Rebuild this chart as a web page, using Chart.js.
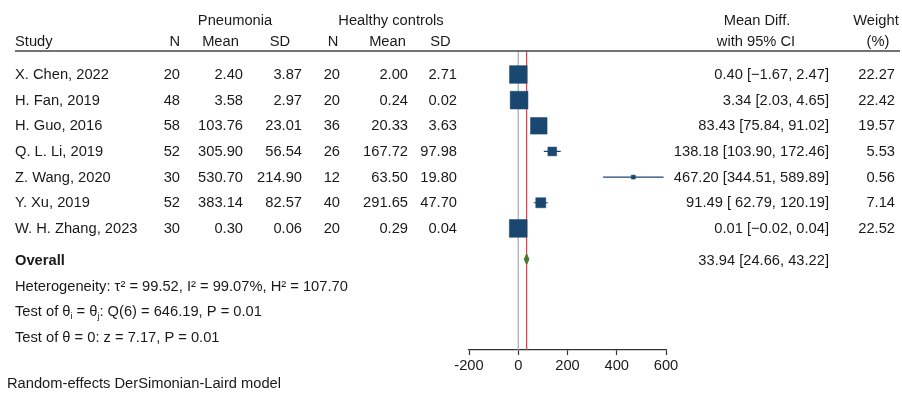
<!DOCTYPE html>
<html><head><meta charset="utf-8">
<script src="https://cdn.jsdelivr.net/npm/chart.js@4/dist/chart.umd.min.js"></script>
<style>html,body{margin:0;padding:0;background:#fff;}#wrap{width:902px;height:403px;position:relative;}</style>
</head><body><div id="wrap"><canvas id="c" width="902" height="403"></canvas></div>
<script>
const studies = ["X. Chen, 2022","H. Fan, 2019","H. Guo, 2016","Q. L. Li, 2019","Z. Wang, 2020","Y. Xu, 2019","W. H. Zhang, 2023"];
const pnN = [20,48,58,52,30,52,30];
const pnMean = [2.40,3.58,103.76,305.90,530.70,383.14,0.30];
const pnSD = [3.87,2.97,23.01,56.54,214.90,82.57,0.06];
const hcN = [20,20,36,26,12,40,20];
const hcMean = [2.00,0.24,20.33,167.72,63.50,291.65,0.29];
const hcSD = [2.71,0.02,3.63,97.98,19.80,47.70,0.04];
const meanDiff = [0.40,3.34,83.43,138.18,467.20,91.49,0.01];
const ciLow = [-1.67,2.03,75.84,103.90,344.51,62.79,-0.02];
const ciHigh = [2.47,4.65,91.02,172.46,589.89,120.19,0.04];
const weights = [22.27,22.42,19.57,5.53,0.56,7.14,22.52];
const overallEst = [33.94,24.66,43.22];
const hetStats = [99.52,99.07,107.70];
const qTest = [6,646.19,0.01];
const zTest = [7.17,0.01];
const xTicks = [-200,0,200,400,600];

const FONT = '"Liberation Sans", Arial, Helvetica, sans-serif';
const FS = 14.7;
const NAVY = '#1a476f';
const GREEN = '#4f7a2c';
const Y_MIN = -0.916, Y_MAX = 10.741, OVERALL_ROW = 7.2;

const ciData = [];
meanDiff.forEach((m,i)=>{ ciData.push({x:ciLow[i],y:i},{x:ciHigh[i],y:i},{x:ciHigh[i],y:null}); });
const sqData = meanDiff.map((m,i)=>({x:m,y:i}));
const sqRadius = weights.map(w=>Math.max(4, 3.75*Math.sqrt(w))/Math.SQRT2);
const dh = 0.21;
const diamond = [
  {x:overallEst[1],y:OVERALL_ROW},{x:overallEst[0],y:OVERALL_ROW-dh},
  {x:overallEst[2],y:OVERALL_ROW},{x:overallEst[0],y:OVERALL_ROW+dh},
  {x:overallEst[1],y:OVERALL_ROW}
];

function f2(v){ return v.toFixed(2).replace('-','\u2212'); }
function fmtCI(md,lo,hi){
  let a=f2(lo), b=f2(hi);
  if (lo>=0 && a.length<b.length) a=a.padStart(b.length,' ');
  return f2(md)+' ['+a+', '+b+']';
}

const textPlugin = {
  id:'forestText',
  afterDraw(chart){
    const ctx = chart.ctx, ys = chart.scales.y;
    ctx.save();
    ctx.fillStyle = '#1a1a1a';
    ctx.textBaseline = 'middle';
    const font = (s,b)=> (b?'bold ':'')+s+'px '+FONT;
    const txt = (t,x,y,al)=>{ ctx.textAlign = al||'left'; ctx.fillText(t,x,y); };
    ctx.font = font(FS);
    // headers
    txt('Pneumonia',235,21,'center');
    txt('Healthy controls',391,21,'center');
    txt('Mean Diff.',757,21,'center');
    txt('Weight',876,21,'center');
    txt('Study',15,41.5);
    txt('N',180,41.5,'right');
    txt('Mean',220.5,41.5,'center');
    txt('SD',280,41.5,'center');
    txt('N',333,41.5,'center');
    txt('Mean',387.5,41.5,'center');
    txt('SD',440.5,41.5,'center');
    txt('with 95% CI',756,41.5,'center');
    txt('(%)',878,41.5,'center');
    // rule
    ctx.strokeStyle = '#444'; ctx.lineWidth = 1.6;
    ctx.beginPath(); ctx.moveTo(15,51); ctx.lineTo(900,51); ctx.stroke();
    // rows
    studies.forEach((s,i)=>{
      const y = ys.getPixelForValue(i)+0.5;
      txt(s,15,y);
      txt(String(pnN[i]),180,y,'right');
      txt(pnMean[i].toFixed(2),243,y,'right');
      txt(pnSD[i].toFixed(2),302,y,'right');
      txt(String(hcN[i]),340,y,'right');
      txt(hcMean[i].toFixed(2),408,y,'right');
      txt(hcSD[i].toFixed(2),457,y,'right');
      txt(fmtCI(meanDiff[i],ciLow[i],ciHigh[i]),829,y,'right');
      txt(weights[i].toFixed(2),895,y,'right');
    });
    const oy = ys.getPixelForValue(OVERALL_ROW)+1.5;
    ctx.font = font(FS,true);
    txt('Overall',15,oy);
    ctx.font = font(FS);
    txt(fmtCI(overallEst[0],overallEst[1],overallEst[2]),829,oy,'right');
    txt('Heterogeneity: \u03c4\u00b2 = '+hetStats[0].toFixed(2)+', I\u00b2 = '+hetStats[1].toFixed(2)+'%, H\u00b2 = '+hetStats[2].toFixed(2),15,287);
    // test of theta_i = theta_j
    let x = 15, y = 312;
    const seg = (t,sub)=>{
      if (sub){ ctx.font = font(9); ctx.textAlign='left'; ctx.fillText(t,x,y+4.5); x += ctx.measureText(t).width; ctx.font = font(FS); }
      else { ctx.textAlign='left'; ctx.fillText(t,x,y); x += ctx.measureText(t).width; }
    };
    seg('Test of \u03b8'); seg('i',true); seg(' = \u03b8'); seg('j',true);
    seg(': Q('+qTest[0]+') = '+qTest[1].toFixed(2)+', P = '+qTest[2].toFixed(2));
    txt('Test of \u03b8 = 0: z = '+zTest[0].toFixed(2)+', P = '+zTest[1].toFixed(2),15,338);
    txt('Random-effects DerSimonian-Laird model',7,384);
    ctx.restore();
  }
};

new Chart(document.getElementById('c'),{
  type:'scatter',
  data:{datasets:[
    {label:'studies',data:sqData,pointStyle:'rect',pointRadius:sqRadius,pointHoverRadius:sqRadius,backgroundColor:NAVY,borderColor:NAVY,borderWidth:0.5,showLine:false},
    {label:'overall',data:diamond,showLine:true,fill:'shape',backgroundColor:GREEN,borderColor:GREEN,borderWidth:1,pointRadius:0,tension:0},
    {label:'ci',data:ciData,showLine:true,spanGaps:false,borderColor:NAVY,borderWidth:1.2,pointRadius:0},
    {label:'overallLine',data:[{x:overallEst[0],y:Y_MIN},{x:overallEst[0],y:Y_MAX}],showLine:true,borderColor:'#e8384f',borderWidth:1.2,pointRadius:0},
    {label:'zero',data:[{x:0,y:Y_MIN},{x:0,y:Y_MAX}],showLine:true,borderColor:'#a9a9a9',borderWidth:1.2,pointRadius:0}
  ]},
  options:{
    responsive:false,animation:false,devicePixelRatio:1,
    layout:{padding:{left:469,right:236,top:51,bottom:28}},
    plugins:{legend:{display:false},tooltip:{enabled:false},title:{display:false}},
    events:[],
    scales:{
      x:{type:'linear',min:-200,max:600,
        afterBuildTicks:s=>{ s.ticks = xTicks.map(v=>({value:v})); },
        afterFit:s=>{ s.height = 25; },
        ticks:{font:{size:FS,family:FONT},color:'#1a1a1a',padding:2,maxRotation:0,autoSkip:false},
        grid:{display:true,drawOnChartArea:false,drawTicks:true,tickLength:5,tickColor:'#333',tickWidth:1.2},
        border:{display:true,color:'#333',width:1.3}
      },
      y:{type:'linear',display:false,reverse:true,min:Y_MIN,max:Y_MAX}
    }
  },
  plugins:[textPlugin]
});
</script></body></html>
